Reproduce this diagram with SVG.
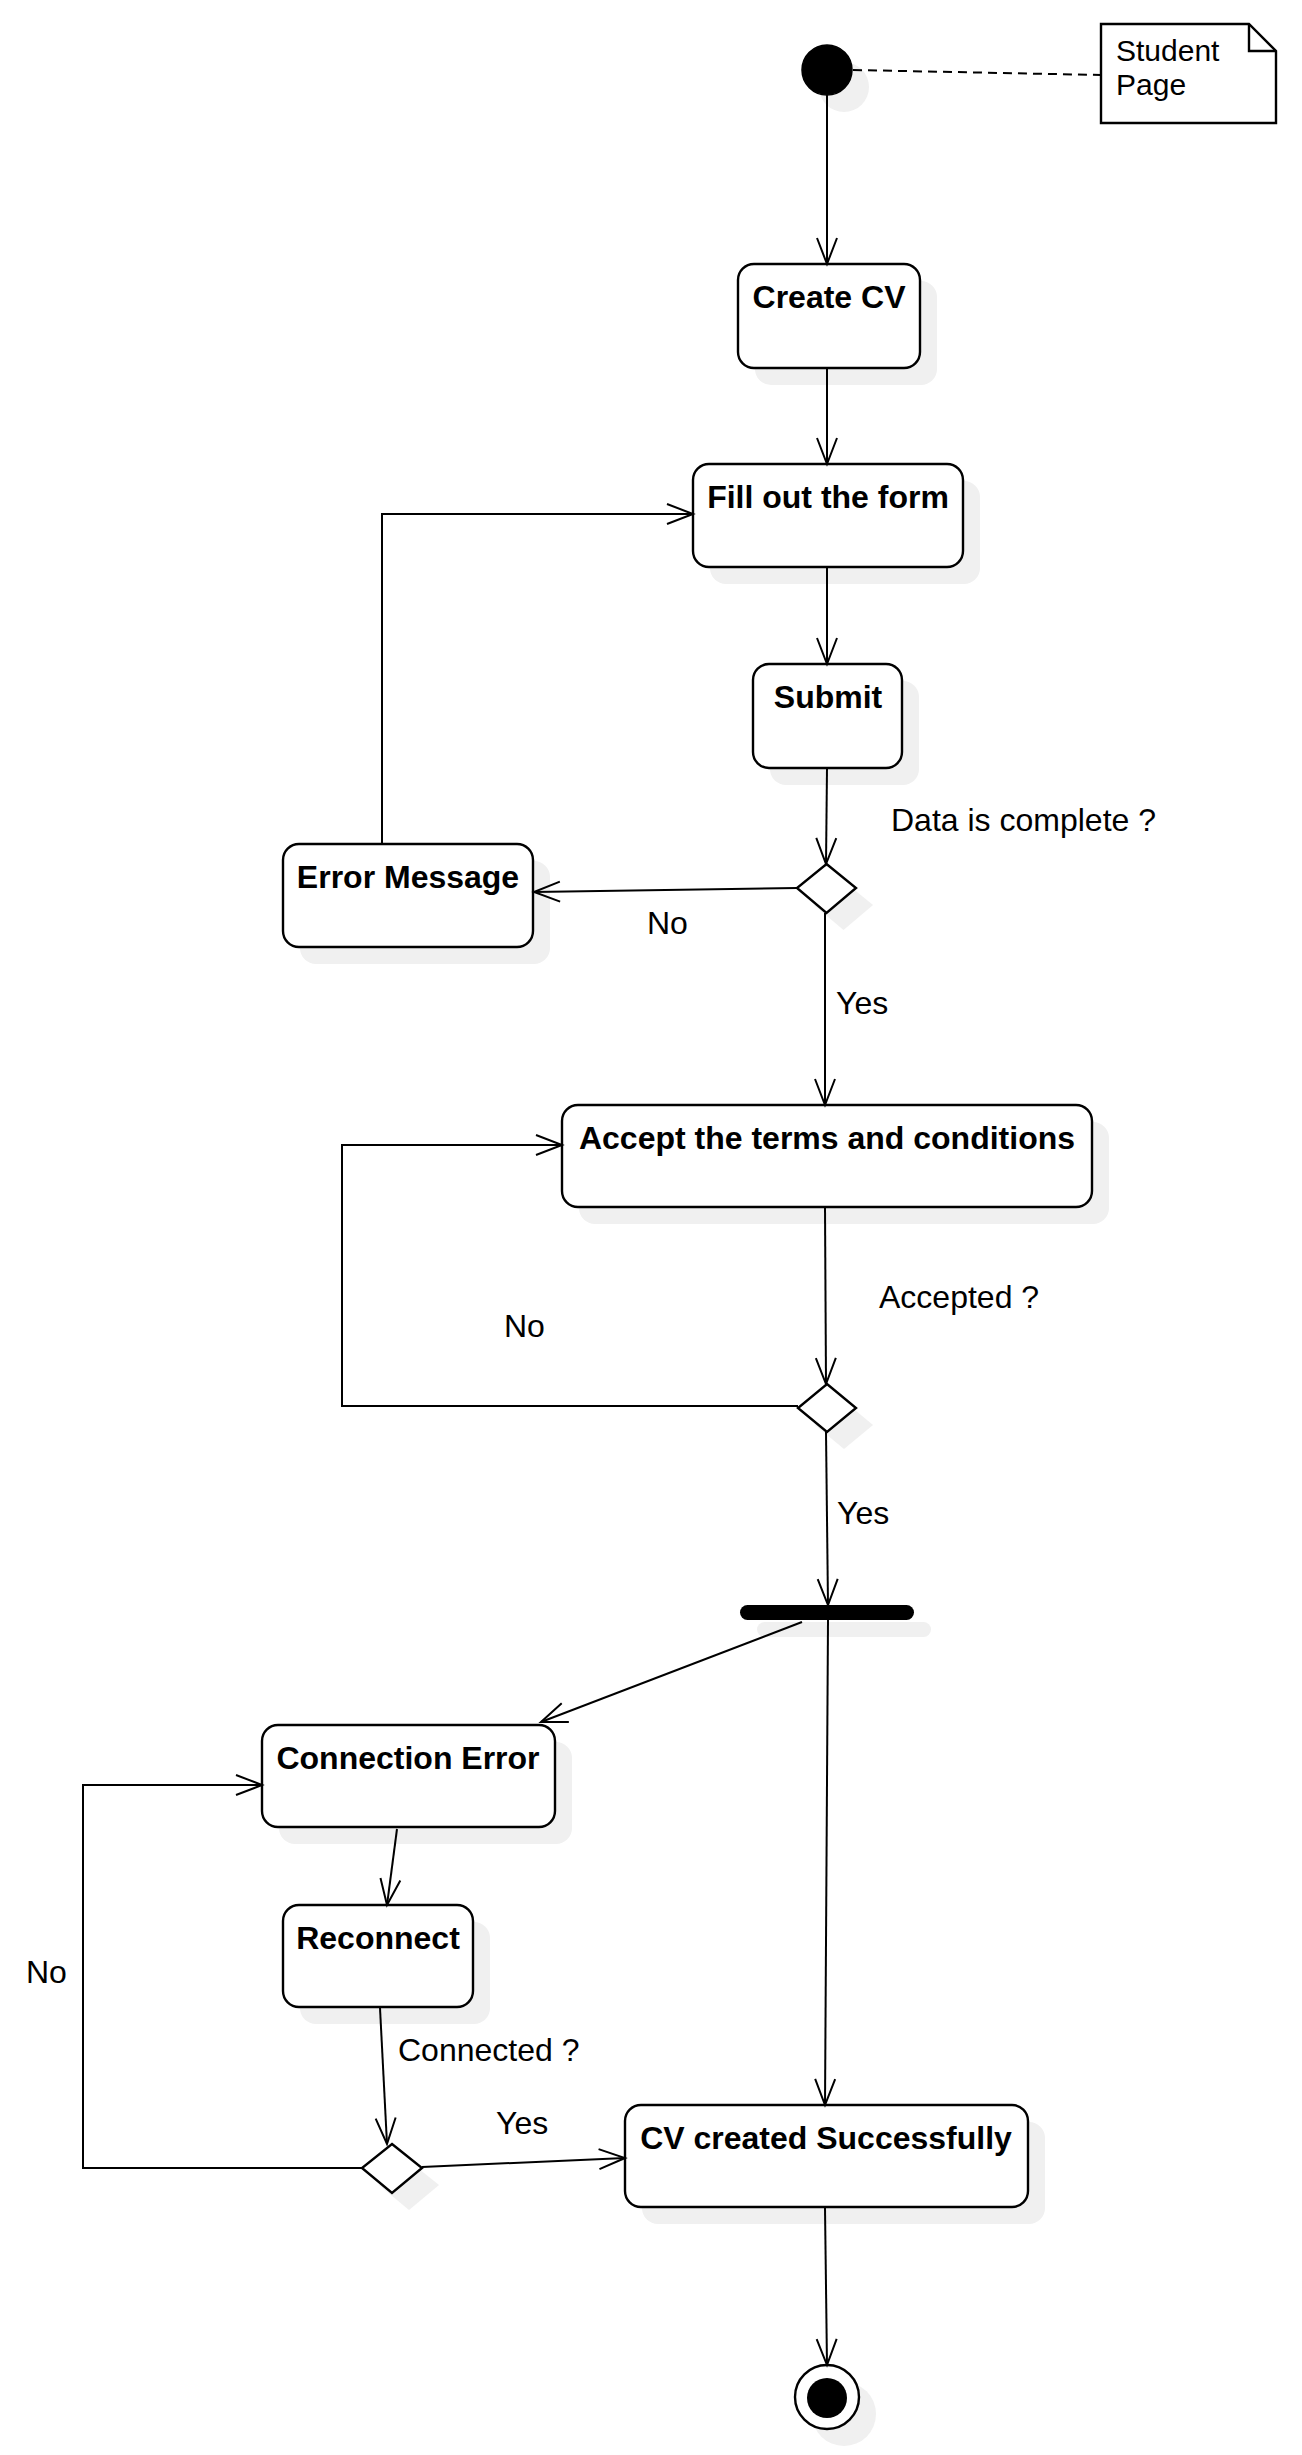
<svg xmlns="http://www.w3.org/2000/svg" width="1302" height="2455" viewBox="0 0 1302 2455">
<defs>
<style>
.node{fill:#ffffff;stroke:#000000;stroke-width:2.4}
.shadow{fill:#f0f0f0;stroke:none}
.title{font-family:"Liberation Sans",Arial,sans-serif;font-size:32px;font-weight:bold;fill:#000000;text-anchor:middle}
.lbl{font-family:"Liberation Sans",Arial,sans-serif;font-size:32px;fill:#000000}
.note{font-family:"Liberation Sans",Arial,sans-serif;font-size:30px;fill:#000000}
.edge{fill:none;stroke:#000000;stroke-width:2}
</style>
<marker id="arr" markerUnits="userSpaceOnUse" viewBox="-30 -15 34 30" markerWidth="34" markerHeight="30" refX="0" refY="0" orient="auto">
<path d="M-26,-10 L0,0 L-26,10" fill="none" stroke="#000000" stroke-width="2"/>
</marker>
</defs>
<rect width="1302" height="2455" fill="#ffffff"/>

<g id="start">
<circle class="shadow" cx="844" cy="87" r="25"/>
<circle cx="827" cy="70" r="25" fill="#000000" stroke="#000000" stroke-width="1.5"/>
</g>

<g id="note">
<path d="M1101,24 H1249 L1276,51 V123 H1101 Z" class="node"/>
<path d="M1249,24 V51 H1276" fill="none" stroke="#000000" stroke-width="2.4"/>
<text class="note" x="1116" y="61">Student</text>
<text class="note" x="1116" y="95">Page</text>
</g>

<g id="create-cv">
<rect class="shadow" x="755" y="281" width="182" height="104" rx="16"/>
<rect class="node" x="738" y="264" width="182" height="104" rx="16"/>
<text class="title" x="829" y="308">Create CV</text>
</g>

<g id="fill-form">
<rect class="shadow" x="710" y="481" width="270" height="103" rx="16"/>
<rect class="node" x="693" y="464" width="270" height="103" rx="16"/>
<text class="title" x="828" y="508">Fill out the form</text>
</g>

<g id="submit">
<rect class="shadow" x="770" y="681" width="149" height="104" rx="16"/>
<rect class="node" x="753" y="664" width="149" height="104" rx="16"/>
<text class="title" x="828" y="708">Submit</text>
</g>

<g id="decision-data">
<polygon class="shadow" points="843.5,881 873,905 843.5,930 814,905"/>
<polygon class="node" points="826.5,864 856,888 826.5,913 797,888"/>
</g>

<g id="error-message">
<rect class="shadow" x="300" y="861" width="250" height="103" rx="16"/>
<rect class="node" x="283" y="844" width="250" height="103" rx="16"/>
<text class="title" x="408" y="888">Error Message</text>
</g>

<g id="accept-terms">
<rect class="shadow" x="579" y="1122" width="530" height="102" rx="16"/>
<rect class="node" x="562" y="1105" width="530" height="102" rx="16"/>
<text class="title" x="827" y="1149">Accept the terms and conditions</text>
</g>

<g id="decision-accepted">
<polygon class="shadow" points="844,1401 873,1425 844,1449 815,1425"/>
<polygon class="node" points="827,1384 856,1408 827,1432 798,1408"/>
</g>

<g id="fork">
<rect class="shadow" x="757" y="1622" width="174" height="15" rx="7.5"/>
<rect x="740" y="1605" width="174" height="15" rx="7.5" fill="#000000"/>
</g>

<g id="connection-error">
<rect class="shadow" x="279" y="1742" width="293" height="102" rx="16"/>
<rect class="node" x="262" y="1725" width="293" height="102" rx="16"/>
<text class="title" x="408" y="1769">Connection Error</text>
</g>

<g id="reconnect">
<rect class="shadow" x="300" y="1922" width="190" height="102" rx="16"/>
<rect class="node" x="283" y="1905" width="190" height="102" rx="16"/>
<text class="title" x="378" y="1949">Reconnect</text>
</g>

<g id="decision-connected">
<polygon class="shadow" points="409,2161 439,2185 409,2210 379,2185"/>
<polygon class="node" points="392,2144 422,2168 392,2193 362,2168"/>
</g>

<g id="cv-created">
<rect class="shadow" x="642" y="2122" width="403" height="102" rx="16"/>
<rect class="node" x="625" y="2105" width="403" height="102" rx="16"/>
<text class="title" x="826" y="2149">CV created Successfully</text>
</g>

<g id="end">
<circle class="shadow" cx="844" cy="2414" r="32"/>
<circle cx="827" cy="2397" r="32" fill="#ffffff" stroke="#000000" stroke-width="2.4"/>
<circle cx="827" cy="2398" r="20" fill="#000000"/>
</g>

<g id="connectors">
<path class="edge" d="M853,70 L1101,75" stroke-dasharray="9 6"/>
<path class="edge" d="M827,95 V264" marker-end="url(#arr)"/>
<path class="edge" d="M827,368 V464" marker-end="url(#arr)"/>
<path class="edge" d="M827,567 V664" marker-end="url(#arr)"/>
<path class="edge" d="M827,768 L826,864" marker-end="url(#arr)"/>
<path class="edge" d="M797,888 L534,892" marker-end="url(#arr)"/>
<path class="edge" d="M382,844 V514 H693" marker-end="url(#arr)"/>
<path class="edge" d="M825,913 V1105" marker-end="url(#arr)"/>
<path class="edge" d="M825,1207 L826,1384" marker-end="url(#arr)"/>
<path class="edge" d="M798,1406 H342 V1145 H562" marker-end="url(#arr)"/>
<path class="edge" d="M826,1432 L828,1605" marker-end="url(#arr)"/>
<path class="edge" d="M802,1622 L541,1722" marker-end="url(#arr)"/>
<path class="edge" d="M828,1620 L825,2105" marker-end="url(#arr)"/>
<path class="edge" d="M397,1829 L387,1905" marker-end="url(#arr)"/>
<path class="edge" d="M380,2008 L387,2144" marker-end="url(#arr)"/>
<path class="edge" d="M362,2168 H83 V1785 H262" marker-end="url(#arr)"/>
<path class="edge" d="M422,2167 L625,2158" marker-end="url(#arr)"/>
<path class="edge" d="M825,2208 L827,2365" marker-end="url(#arr)"/>
</g>

<g id="labels">
<text class="lbl" x="891" y="831">Data is complete ?</text>
<text class="lbl" x="647" y="934">No</text>
<text class="lbl" x="836" y="1014">Yes</text>
<text class="lbl" x="879" y="1308">Accepted ?</text>
<text class="lbl" x="504" y="1337">No</text>
<text class="lbl" x="837" y="1524">Yes</text>
<text class="lbl" x="26" y="1983">No</text>
<text class="lbl" x="398" y="2061">Connected ?</text>
<text class="lbl" x="496" y="2134">Yes</text>
</g>
</svg>
